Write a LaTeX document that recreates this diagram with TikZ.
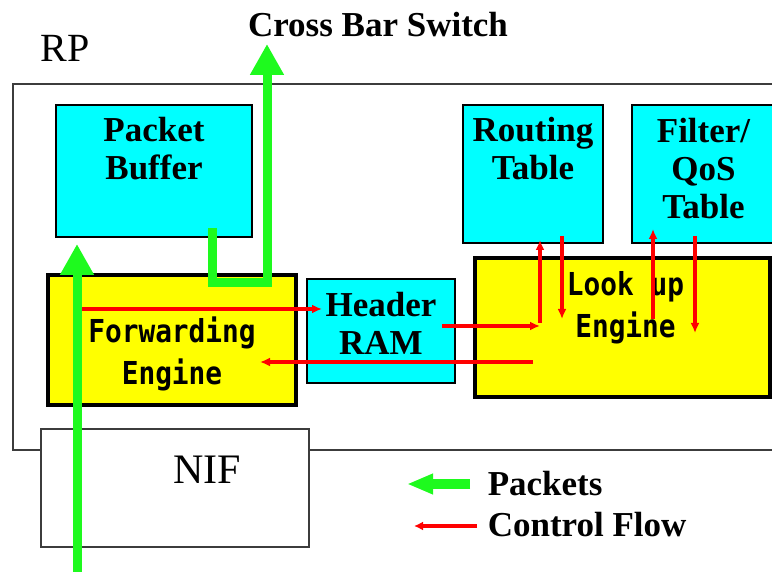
\documentclass[tikz,border=0pt]{standalone}
\usepackage{fontspec}
\setmainfont{Liberation Serif}
\newfontfamily\lcdfont[FakeStretch=0.88]{DejaVu Sans Mono}
\usetikzlibrary{arrows.meta}

\definecolor{pktgreen}{RGB}{30,250,30}
\definecolor{rpgray}{RGB}{60,60,60}
\definecolor{memcyan}{RGB}{0,255,255}
\definecolor{engyellow}{RGB}{255,255,0}
\definecolor{ctlred}{RGB}{255,0,0}

\begin{document}
\begin{tikzpicture}[x=0.5pt, y=-0.5pt, thick]
        \tikzstyle{table} = [rectangle, draw, fill=memcyan, line width=1pt, inner sep=0pt]
        \tikzstyle{engine} = [rectangle, draw, fill=engyellow, line width=2pt, inner sep=0pt]
        \tikzstyle{frame} = [rectangle, draw=rpgray, line width=1pt, inner sep=0pt]
        \tikzstyle{lbl} = [font=\bfseries\fontsize{17.5}{19}\selectfont, align=center]
        \tikzstyle{lcd} = [font=\lcdfont\bfseries\fontsize{15.8}{21}\selectfont, align=center]
        \tikzstyle{packet} = [draw=pktgreen, line width=4.5pt, line join=miter, -{Triangle[length=15.5pt, width=16pt]}]
        \tikzstyle{ctrl} = [draw=ctlred, line width=2pt, -{Latex[length=5pt, width=4.5pt]}]

        \useasboundingbox (0,0) rectangle (772,572);

        % router processor and line card
        \node [frame, minimum width=388.5pt, minimum height=183pt] (rp) at (401.5,267) {};
        \node [font=\fontsize{20}{24}\selectfont] (rpname) at (65,48) {RP};
        \node [lbl] (xbar) at (378,25) {Cross Bar Switch};
        \node [frame, fill=white, minimum width=134pt, minimum height=59pt,
               label={[font=\fontsize{21}{24}\selectfont, xshift=16pt, yshift=9pt]center:NIF}] (nif) at (175,488) {};

        % memories and engines
        \node [table, minimum width=98pt, minimum height=66pt, label={[lbl, yshift=11pt]center:Packet\\Buffer}] (buffer) at (154,171) {};
        \node [table, minimum width=70pt, minimum height=69pt, label={[lbl, yshift=12.5pt]center:Routing\\Table}] (routing) at (533,174) {};
        \node [table, minimum width=71.5pt, minimum height=69pt, label={[lbl, yshift=2.5pt]center:Filter/\\QoS\\Table}] (filter) at (703.5,174) {};
        \node [engine, minimum width=124pt, minimum height=65pt, label={[lcd, yshift=-7pt]center:Forwarding\\Engine}] (fwd) at (172,340) {};
        \node [table, minimum width=74pt, minimum height=52pt, label={[lbl, yshift=4pt]center:Header\\RAM}] (ram) at (381,331) {};
        \node [engine, minimum width=147.5pt, minimum height=69.5pt, label={[lcd, xshift=1.5pt, yshift=10pt]center:Look up\\Engine}] (lookup) at (622.5,327.5) {};

        % packet path
        \coordinate (nifin) at (77,572);
        \coordinate (bufin) at (77,244);
        \coordinate (bufout) at (212,228);
        \coordinate (bend) at (212,283);
        \coordinate (xbarin) at (267,44);
        \path [packet] (nifin) -- (bufin);
        \path [packet] (bufout) -- (bend) -| (xbarin);

        % control flow
        \coordinate (fwdout) at (82,309);
        \coordinate (ramin) at (322,309);
        \coordinate (ramout) at (442,326);
        \coordinate (lookin) at (540,326);
        \coordinate (lookout) at (533,362);
        \coordinate (fwdin) at (260,362);
        \path [ctrl] (fwdout) -- (ramin);
        \path [ctrl] (ramout) -- (lookin);
        \path [ctrl] (lookout) -- (fwdin);
        \coordinate (rtq) at (540,323);
        \coordinate (rtqin) at (540,240);
        \coordinate (rta) at (562,236);
        \coordinate (rtain) at (562,319);
        \coordinate (flq) at (653,319);
        \coordinate (flqin) at (653,229);
        \coordinate (fla) at (695,236);
        \coordinate (flain) at (695,333);
        \path [ctrl] (rtq) -- (rtqin);
        \path [ctrl] (rta) -- (rtain);
        \path [ctrl] (flq) -- (flqin);
        \path [ctrl] (fla) -- (flain);

        % legend
        \coordinate (pkta) at (470,484);
        \coordinate (pktb) at (407,484);
        \coordinate (ctla) at (477,526);
        \coordinate (ctlb) at (414,526);
        \path [draw=pktgreen, line width=5pt, -{Triangle[length=13pt, width=9.5pt]}] (pkta) -- (pktb);
        \path [draw=ctlred, line width=2pt, -{Latex[length=4.5pt, width=4.5pt]}] (ctla) -- (ctlb);
        \node [lbl, anchor=west, inner xsep=0pt] (pktlbl) at (487,484) {Packets};
        \node [lbl, anchor=west, inner xsep=0pt] (ctllbl) at (487,525) {Control Flow};
\end{tikzpicture}
\end{document}
